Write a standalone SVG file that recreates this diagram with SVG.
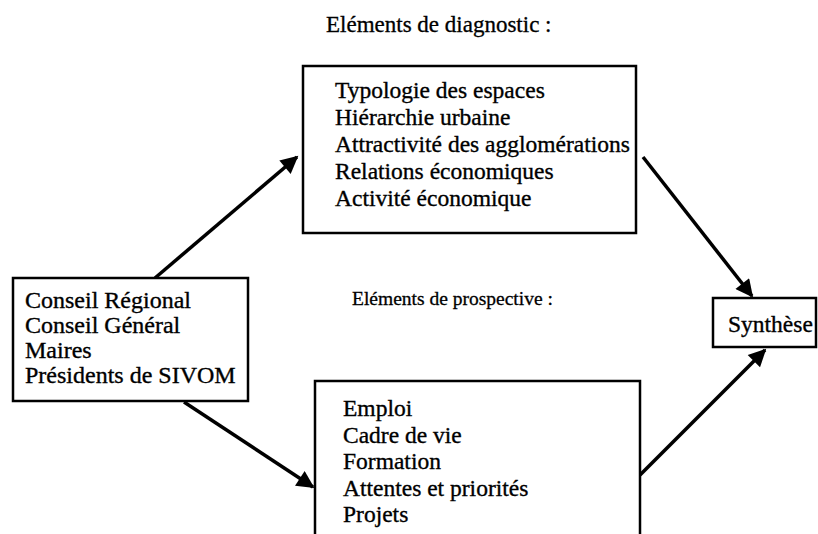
<svg xmlns="http://www.w3.org/2000/svg" width="818" height="534" viewBox="0 0 818 534">
  <style>
    .box { fill: #ffffff; stroke: #000000; stroke-width: 2.5; }
    .txt { font-family: "Liberation Serif", "Times New Roman", serif; font-size: 23.5px; fill: #000000; stroke: #000000; stroke-width: 0.35; }
    .big { font-size: 24px; }
    .hdr { font-family: "Liberation Serif", "Times New Roman", serif; fill: #000000; stroke: #000000; stroke-width: 0.3; }
    .link { stroke: #000000; stroke-width: 3.5; fill: none; marker-end: url(#head); }
  </style>
  <defs>
    <marker id="head" viewBox="0 0 10 10" refX="9" refY="5" markerWidth="6" markerHeight="5" orient="auto" markerUnits="strokeWidth">
      <path d="M0,0 L10,5 L0,10 Z" fill="#000000"/>
    </marker>
  </defs>

  <rect width="818" height="534" fill="#ffffff"/>

  <!-- section headings -->
  <text class="hdr" x="326" y="32" font-size="23">Eléments de diagnostic :</text>
  <text class="hdr" x="352" y="305" font-size="19.5">Eléments de prospective :</text>

  <!-- connectors -->
  <g id="connectors">
    <line class="link" x1="155" y1="278" x2="297" y2="157"/>
    <line class="link" x1="184" y1="402" x2="313" y2="487"/>
    <line class="link" x1="643" y1="157" x2="752" y2="296"/>
    <line class="link" x1="640" y1="475" x2="765" y2="350"/>
  </g>

  <g id="acteurs">
    <rect class="box" x="13" y="278" width="235" height="123"/>
    <text class="txt big" x="25" y="308">Conseil Régional</text>
    <text class="txt big" x="25" y="333">Conseil Général</text>
    <text class="txt big" x="25" y="358">Maires</text>
    <text class="txt big" x="25" y="383">Présidents de SIVOM</text>
  </g>

  <g id="diagnostic">
    <rect class="box" x="303" y="66" width="333" height="167"/>
    <text class="txt" x="335" y="98">Typologie des espaces</text>
    <text class="txt" x="335" y="125">Hiérarchie urbaine</text>
    <text class="txt" x="335" y="152">Attractivité des agglomérations</text>
    <text class="txt" x="335" y="179">Relations économiques</text>
    <text class="txt" x="335" y="206">Activité économique</text>
  </g>

  <g id="prospective">
    <rect class="box" x="315" y="381" width="325" height="170"/>
    <text class="txt" x="343" y="416">Emploi</text>
    <text class="txt" x="343" y="443">Cadre de vie</text>
    <text class="txt" x="343" y="469">Formation</text>
    <text class="txt" x="343" y="496">Attentes et priorités</text>
    <text class="txt" x="343" y="522">Projets</text>
  </g>

  <g id="synthese">
    <rect class="box" x="713" y="298" width="103" height="49"/>
    <text class="txt" x="728" y="332">Synthèse</text>
  </g>
</svg>
